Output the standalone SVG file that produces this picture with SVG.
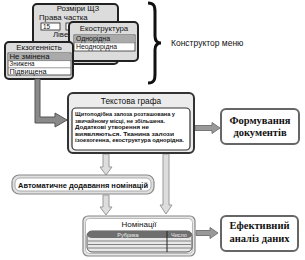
<svg xmlns="http://www.w3.org/2000/svg" width="305" height="260" viewBox="0 0 305 260">
<defs>
<style>
.win{fill:#dcdcdc;stroke:#222;stroke-width:2}
.list{fill:#fff;stroke:#333;stroke-width:0.8}
.sel{fill:#aaa}
.t{font-family:"Liberation Sans",Arial,sans-serif;fill:#111}
.wt{font-size:7.8px}
.li{font-size:6.4px}
.b{font-weight:bold}
.sf{font-family:"Liberation Serif","Times New Roman",serif;font-weight:bold;font-size:10.5px;fill:#111}
.arrL{fill:#ddd;stroke:#999;stroke-width:1}
.arrM{fill:#999;stroke:#777;stroke-width:1}
.arrD{fill:#8a8a8a;stroke:#555;stroke-width:1}
.box{fill:#fff;stroke:#666;stroke-width:2}
</style>
</defs>
<rect width="305" height="260" fill="#fff"/>
<g id="window-rozmiry">
<rect class="win" x="33" y="4" width="85" height="60" rx="4"/>
<text class="t wt" x="78" y="11" text-anchor="middle">Розміри ЩЗ</text>
<text class="t wt" x="39" y="20">Права частка</text>
<rect x="41" y="23" width="19" height="7" fill="#fff" stroke="#222" stroke-width="0.8"/>
<text class="t li" x="43" y="29">15</text>
<rect x="66" y="23" width="6" height="7" fill="#fff" stroke="#222" stroke-width="0.8"/>
<text class="t wt" x="53" y="37">Ліве</text>
</g>
<g id="window-ekostruktura">
<rect class="win" x="69" y="22" width="69" height="39" rx="4"/>
<text class="t wt" x="104" y="31" text-anchor="middle">Екоструктура</text>
<rect class="list" x="74" y="35" width="61" height="16"/>
<rect class="sel" x="74.5" y="35.5" width="60" height="7"/>
<line x1="74" y1="42.8" x2="135" y2="42.8" stroke="#555" stroke-width="0.6"/>
<text class="t li" x="76" y="41.2" textLength="34" lengthAdjust="spacingAndGlyphs">Однорідна</text>
<text class="t li" x="76" y="49" textLength="41" lengthAdjust="spacingAndGlyphs">Неоднорідна</text>
</g>
<g id="window-ekzogennist">
<rect class="win" x="5" y="42" width="68" height="37" rx="4"/>
<text class="t wt" x="39" y="50" text-anchor="middle">Екзогенність</text>
<rect class="list" x="8" y="53" width="63" height="22"/>
<rect class="sel" x="8.5" y="53.5" width="62" height="7"/>
<line x1="8" y1="60.6" x2="71" y2="60.6" stroke="#555" stroke-width="0.6"/>
<line x1="8" y1="67.8" x2="71" y2="67.8" stroke="#555" stroke-width="0.6"/>
<text class="t li" x="9.5" y="59" textLength="40" lengthAdjust="spacingAndGlyphs">Не змінена</text>
<text class="t li" x="9.5" y="66.3" textLength="25" lengthAdjust="spacingAndGlyphs">Знижена</text>
<text class="t li" x="9.5" y="73.6" textLength="37" lengthAdjust="spacingAndGlyphs">Підвищена</text>
</g>
<g id="brace">
<path d="M148,3 C154,3 155,6 155,12 L155,36 C155,41 157,43 161,43 C157,43 155,45 155,50 L155,74 C155,80 154,83 148,83" fill="none" stroke="#111" stroke-width="3"/>
<text class="t" x="171" y="46" font-size="8.5">Конструктор меню</text>
</g>
<g id="connectors">
<path class="arrD" d="M35,79 L40,79 L40,117 L55,117 L55,113 L67,120 L55,127 L55,123 L35,123 Z"/>
<path class="arrM" d="M195,125.5 L212,125.5 L212,122.5 L220,128 L212,133.5 L212,130.5 L195,130.5 Z"/>
<path class="arrM" d="M196,230.5 L210,230.5 L210,227.5 L218,233 L210,238.5 L210,235.5 L196,235.5 Z"/>
<path class="arrL" d="M103,154 L109,154 L109,167 L112,167 L106,175 L100,167 L103,167 Z"/>
<path class="arrL" d="M103,195 L109,195 L109,207 L112,207 L106,215 L100,207 L103,207 Z"/>
<path class="arrL" d="M163,154 L169,154 L169,205 L172,205 L166,214 L160,205 L163,205 Z"/>
</g>
<g id="tekstova-grafa">
<rect x="68" y="93" width="126" height="60" rx="5" fill="#ececec" stroke="#333" stroke-width="2"/>
<text class="t" x="131" y="104" text-anchor="middle" font-size="8.3">Текстова графа</text>
<rect x="72" y="108" width="118" height="42" rx="4" fill="#fff" stroke="#333" stroke-width="1.2"/>
<g class="t b" font-size="5.6">
<text x="75" y="116" textLength="100" lengthAdjust="spacingAndGlyphs">Щитоподібна залоза розташована у</text>
<text x="75" y="122.5" textLength="90" lengthAdjust="spacingAndGlyphs">звичайному місці, не збільшена.</text>
<text x="75" y="129" textLength="74" lengthAdjust="spacingAndGlyphs">Додаткові утворення не</text>
<text x="75" y="135.5" textLength="99" lengthAdjust="spacingAndGlyphs">виявляються. Тканина залози</text>
<text x="75" y="142" textLength="109" lengthAdjust="spacingAndGlyphs">ізоехогенна, екоструктура однорідна.</text>
</g>
</g>
<g id="formuvannia">
<rect class="box" x="221" y="109" width="78" height="35" rx="5"/>
<text class="sf" x="260" y="124" text-anchor="middle">Формування</text>
<text class="sf" x="260" y="136" text-anchor="middle">документів</text>
</g>
<g id="avtomatychne">
<rect x="12" y="175" width="142" height="19" rx="7" fill="#e0e0e0" stroke="#888" stroke-width="1.2"/>
<rect x="15" y="178" width="136" height="13" rx="5" fill="#fff" stroke="#999" stroke-width="0.8"/>
<text class="t b" x="83" y="187.5" text-anchor="middle" font-size="7.5" textLength="130" lengthAdjust="spacingAndGlyphs">Автоматичне додавання номінацій</text>
</g>
<g id="nominatsii">
<rect x="83" y="216" width="112" height="40" rx="5" fill="#e6e6e6" stroke="#888" stroke-width="1.2"/>
<rect x="85.5" y="218.5" width="107" height="35" rx="4" fill="#fff" stroke="#aaa" stroke-width="0.8"/>
<text class="t" x="139" y="227" text-anchor="middle" font-size="8">Номінації</text>
<rect x="87" y="231" width="105" height="21" rx="5" fill="#e8e8e8" stroke="#555" stroke-width="1"/>
<path d="M92,231 L187,231 A5,3.5 0 0 1 187,238 L92,238 A5,3.5 0 0 1 92,231 Z" fill="#6e6e6e"/>
<g fill="none" stroke="#555" stroke-width="0.7">
<path d="M88,241 L191,241"/>
<path d="M88,244.5 L191,244.5"/>
<path d="M88,248 L191,248"/>
</g>
<line x1="167" y1="231" x2="167" y2="252" stroke="#222" stroke-width="1"/>
<text class="t" x="128" y="236.5" text-anchor="middle" font-size="5.5" style="fill:#eee">Рубрика</text>
<text class="t" x="179" y="236.5" text-anchor="middle" font-size="5.5" style="fill:#eee">Число</text>
</g>
<g id="efektyvnyi">
<rect class="box" x="221" y="216" width="77" height="35" rx="5"/>
<text class="sf" x="259.5" y="229" text-anchor="middle">Ефективний</text>
<text class="sf" x="259.5" y="242" text-anchor="middle">аналіз даних</text>
</g>
</svg>
